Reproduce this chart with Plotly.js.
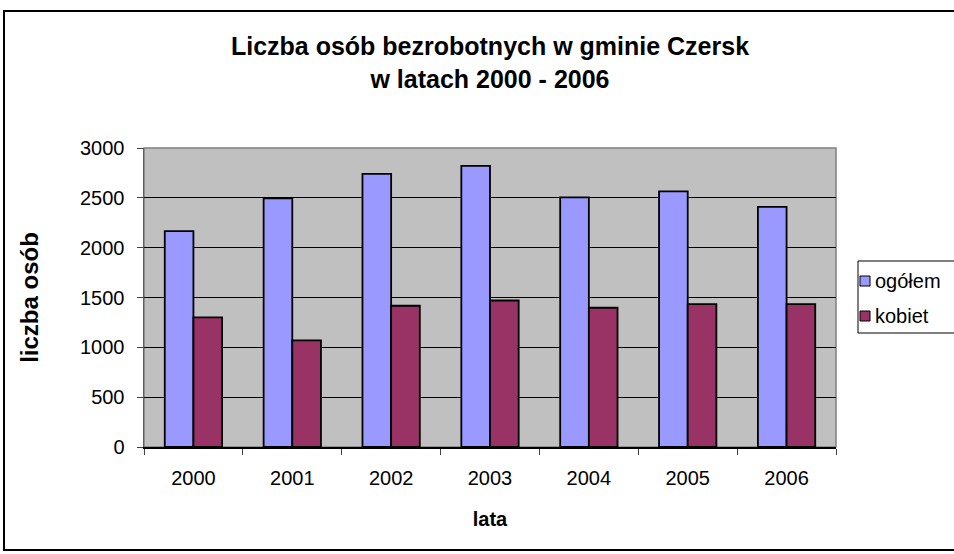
<!DOCTYPE html>
<html>
<head>
<meta charset="utf-8">
<script src="https://cdn.plot.ly/plotly-3.0.1.min.js"></script>
<style>html,body{margin:0;padding:0;background:#fff;}#chart{width:954px;height:554px;}</style>
</head>
<body>
<div id="chart"></div>
<script>
const years = ['2000', '2001', '2002', '2003', '2004', '2005', '2006'];
const ogolem = [2165, 2495, 2740, 2820, 2505, 2565, 2410];
const kobiet = [1300, 1070, 1417, 1470, 1397, 1433, 1433];
const seriesNames = ['ogółem', 'kobiet'];
const seriesColors = ['#9999FF', '#993366'];
const yTicks = [0, 500, 1000, 1500, 2000, 2500, 3000];

const W = 954, H = 554;
const mL = 144, mR = W - 836, mT = 148, mB = H - 447;
const pw = W - mL - mR, ph = H - mT - mB;
const px = x => (x - mL) / pw;
const py = y => (H - mB - y) / ph;

const font = 'Liberation Sans, Arial, sans-serif';

const traces = [ogolem, kobiet].map((vals, i) => ({
  type: 'bar',
  x: years,
  y: vals,
  name: seriesNames[i],
  marker: {color: seriesColors[i], line: {color: '#000000', width: 1.8}},
  hoverinfo: 'x+y'
}));

const shapes = [
  {type: 'rect', xref: 'paper', yref: 'paper', x0: 0, x1: 1, y0: 0, y1: 1,
   line: {color: '#808080', width: 1.5}, layer: 'below'},
  {type: 'rect', xref: 'paper', yref: 'paper', x0: px(4), x1: px(1040), y0: py(550), y1: py(11),
   line: {color: '#000000', width: 2}},
  {type: 'rect', xref: 'paper', yref: 'paper', x0: px(858), x1: px(1040), y0: py(333), y1: py(261),
   line: {color: '#000000', width: 1}, fillcolor: '#ffffff'}
];
const annotations = [];
const legY = [281, 316];
seriesNames.forEach((n, i) => {
  shapes.push({type: 'rect', xref: 'paper', yref: 'paper',
    x0: px(860), x1: px(870), y0: py(legY[i] + 5), y1: py(legY[i] - 5),
    fillcolor: seriesColors[i], line: {color: '#000000', width: 1}});
  annotations.push({xref: 'paper', yref: 'paper', x: px(873), y: py(legY[i]),
    xanchor: 'left', yanchor: 'middle', showarrow: false, text: n,
    font: {family: font, size: 20, color: '#000000'}});
});

const layout = {
  width: W, height: H,
  margin: {l: mL, r: mR, t: mT, b: mB, pad: 0},
  paper_bgcolor: '#ffffff',
  plot_bgcolor: '#C0C0C0',
  showlegend: false,
  barmode: 'group',
  bargap: 0.42,
  bargroupgap: 0,
  title: {
    text: '<b>Liczba osób bezrobotnych w gminie Czersk<br>w latach 2000 - 2006</b>',
    font: {family: font, size: 25, color: '#000000'},
    x: 0.5, xref: 'paper', xanchor: 'center',
    y: 1 - 55 / H, yref: 'container', yanchor: 'top'
  },
  xaxis: {
    type: 'category',
    tickson: 'boundaries',
    ticks: 'outside', ticklen: 6, tickcolor: '#404040', tickwidth: 1,
    showline: true, linecolor: '#000000', linewidth: 1.5,
    showgrid: false,
    tickfont: {family: font, size: 20, color: '#000000'},
    ticklabelstandoff: 12,
    title: {text: '<b>lata</b>', font: {family: font, size: 20, color: '#000000'}, standoff: 24},
    fixedrange: true
  },
  yaxis: {
    range: [0, 3000],
    tickvals: yTicks,
    ticktext: yTicks.map(String),
    ticks: 'outside', ticklen: 6, tickcolor: '#404040', tickwidth: 1,
    showline: true, linecolor: '#606060', linewidth: 1.5,
    showgrid: true, gridcolor: '#000000', gridwidth: 1,
    zeroline: false,
    tickfont: {family: font, size: 20, color: '#000000'},
    ticklabelstandoff: 8,
    title: {text: '<b>liczba osób</b>', font: {family: font, size: 24, color: '#000000'}, standoff: 34},
    fixedrange: true
  },
  shapes: shapes,
  annotations: annotations
};

Plotly.newPlot('chart', traces, layout, {displayModeBar: false, staticPlot: true});
</script>
</body>
</html>
